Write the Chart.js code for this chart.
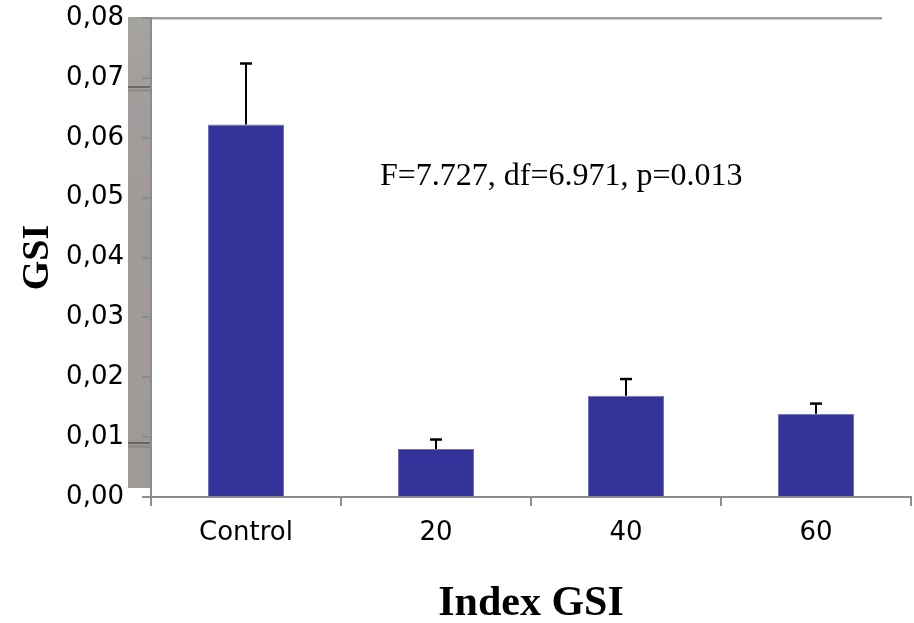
<!DOCTYPE html>
<html>
<head>
<meta charset="utf-8">
<script src="https://cdn.jsdelivr.net/npm/chart.js@4"></script>
<style>
  html, body { margin: 0; padding: 0; background: #fff; }
  #wrap { width: 914px; height: 623px; position: relative; }
</style>
</head>
<body>
<div id="wrap"><canvas id="gsi"></canvas></div>
<script>
// GSI by treatment group, with upper SE bars
const categories = ["Control", "20", "40", "60"];
const gsiMeans = [0.0622, 0.0080, 0.0169, 0.0139];
const gsiErrors = [0.0102, 0.0016, 0.0028, 0.0017];
const yTickLabels = ["0,00", "0,01", "0,02", "0,03", "0,04", "0,05", "0,06", "0,07", "0,08"];
const statsText = "F=7.727, df=6.971, p=0.013";

const AXIS_GRAY = "#8c8c8c";
const BAR_FILL = "#333399";
const BAR_EDGE = "#7070c8";
const TICK_FONT = { family: '"DejaVu Sans", Verdana, sans-serif', size: 26 };

// scanned-looking strip behind the y axis plus the grey top rule
const frameDecor = {
  id: "frameDecor",
  beforeDraw(chart) {
    const { ctx, chartArea } = chart;
    const x0 = chartArea.left - 23;
    const top = chartArea.top;
    const bottom = chartArea.bottom - 9;
    ctx.save();
    const g = ctx.createLinearGradient(0, top, 0, bottom);
    g.addColorStop(0, "#a6a49e");
    g.addColorStop(0.2, "#a39c9c");
    g.addColorStop(0.45, "#a09a96");
    g.addColorStop(0.7, "#a29a98");
    g.addColorStop(1, "#9e9a96");
    ctx.fillStyle = g;
    ctx.fillRect(x0, top, 23, bottom - top);
    // darker streaks in the strip
    ctx.fillStyle = "rgba(60,60,55,0.55)";
    ctx.fillRect(x0, top + 68, 23, 2);
    ctx.fillRect(x0, top + 424, 23, 2);
    ctx.fillStyle = "rgba(80,80,75,0.18)";
    ctx.fillRect(x0, top + 71, 23, 3);
    ctx.fillRect(x0, top + 427, 23, 3);
    // top rule
    ctx.fillStyle = "#a29c9a";
    ctx.fillRect(x0, top - 1, 754, 2.5);
    ctx.restore();
  },
};

// error bars and the statistics line
const errorBars = {
  id: "errorBars",
  afterDatasetsDraw(chart) {
    const { ctx, chartArea } = chart;
    const meta = chart.getDatasetMeta(0);
    const y = chart.scales.y;
    ctx.save();
    ctx.strokeStyle = "#000";
    meta.data.forEach((bar, i) => {
      const yTop = y.getPixelForValue(gsiMeans[i] + gsiErrors[i]);
      ctx.lineWidth = 2;
      ctx.beginPath();
      ctx.moveTo(bar.x, bar.y);
      ctx.lineTo(bar.x, yTop);
      ctx.stroke();
      ctx.lineWidth = 2.5;
      ctx.beginPath();
      ctx.moveTo(bar.x - 6, yTop);
      ctx.lineTo(bar.x + 6, yTop);
      ctx.stroke();
    });
    ctx.fillStyle = "#000";
    ctx.font = '32px "Liberation Serif", "Times New Roman", serif';
    ctx.textAlign = "left";
    ctx.textBaseline = "alphabetic";
    ctx.fillText(statsText, chartArea.left + 229, chartArea.top + 167);
    ctx.restore();
  },
};

new Chart(document.getElementById("gsi"), {
  type: "bar",
  data: {
    labels: categories,
    datasets: [
      {
        label: "GSI",
        data: gsiMeans,
        backgroundColor: BAR_FILL,
        borderColor: BAR_EDGE,
        borderWidth: 1,
        barPercentage: 0.4,
        categoryPercentage: 1.0,
      },
    ],
  },
  plugins: [frameDecor, errorBars],
  options: {
    responsive: true,
    maintainAspectRatio: false,
    animation: false,
    layout: { padding: { top: 18, right: 3, left: 0, bottom: 0 } },
    plugins: {
      legend: { display: false },
      tooltip: { enabled: false },
    },
    scales: {
      x: {
        afterFit(scale) { scale.height = 126; },
        grid: {
          drawOnChartArea: false,
          drawTicks: true,
          tickLength: 9,
          color: AXIS_GRAY,
          lineWidth: 2,
        },
        border: { display: true, color: AXIS_GRAY, width: 2 },
        ticks: {
          color: "#000",
          padding: 12,
          font: TICK_FONT,
        },
        title: {
          display: true,
          text: "Index GSI",
          color: "#000",
          padding: { top: 0, bottom: 0 },
          font: { family: '"Liberation Serif", "Times New Roman", serif', size: 42, weight: "bold", lineHeight: 0.9 },
        },
      },
      y: {
        min: 0,
        max: 0.08,
        afterFit(scale) {
          scale.width = 151;
          scale.paddingTop = 0;
          scale.paddingBottom = 0;
        },
        grid: {
          drawOnChartArea: false,
          drawTicks: true,
          tickLength: 9,
          color: AXIS_GRAY,
          lineWidth: 2,
        },
        border: { display: true, color: AXIS_GRAY, width: 2 },
        ticks: {
          stepSize: 0.01,
          color: "#000",
          padding: 18,
          font: TICK_FONT,
          callback: (v, i) => yTickLabels[i],
        },
        title: {
          display: true,
          text: "GSI",
          color: "#000",
          padding: { top: 15, bottom: 0 },
          font: { family: '"Liberation Serif", "Times New Roman", serif', size: 38, weight: "bold", lineHeight: 1.2 },
        },
      },
    },
  },
});
</script>
</body>
</html>
